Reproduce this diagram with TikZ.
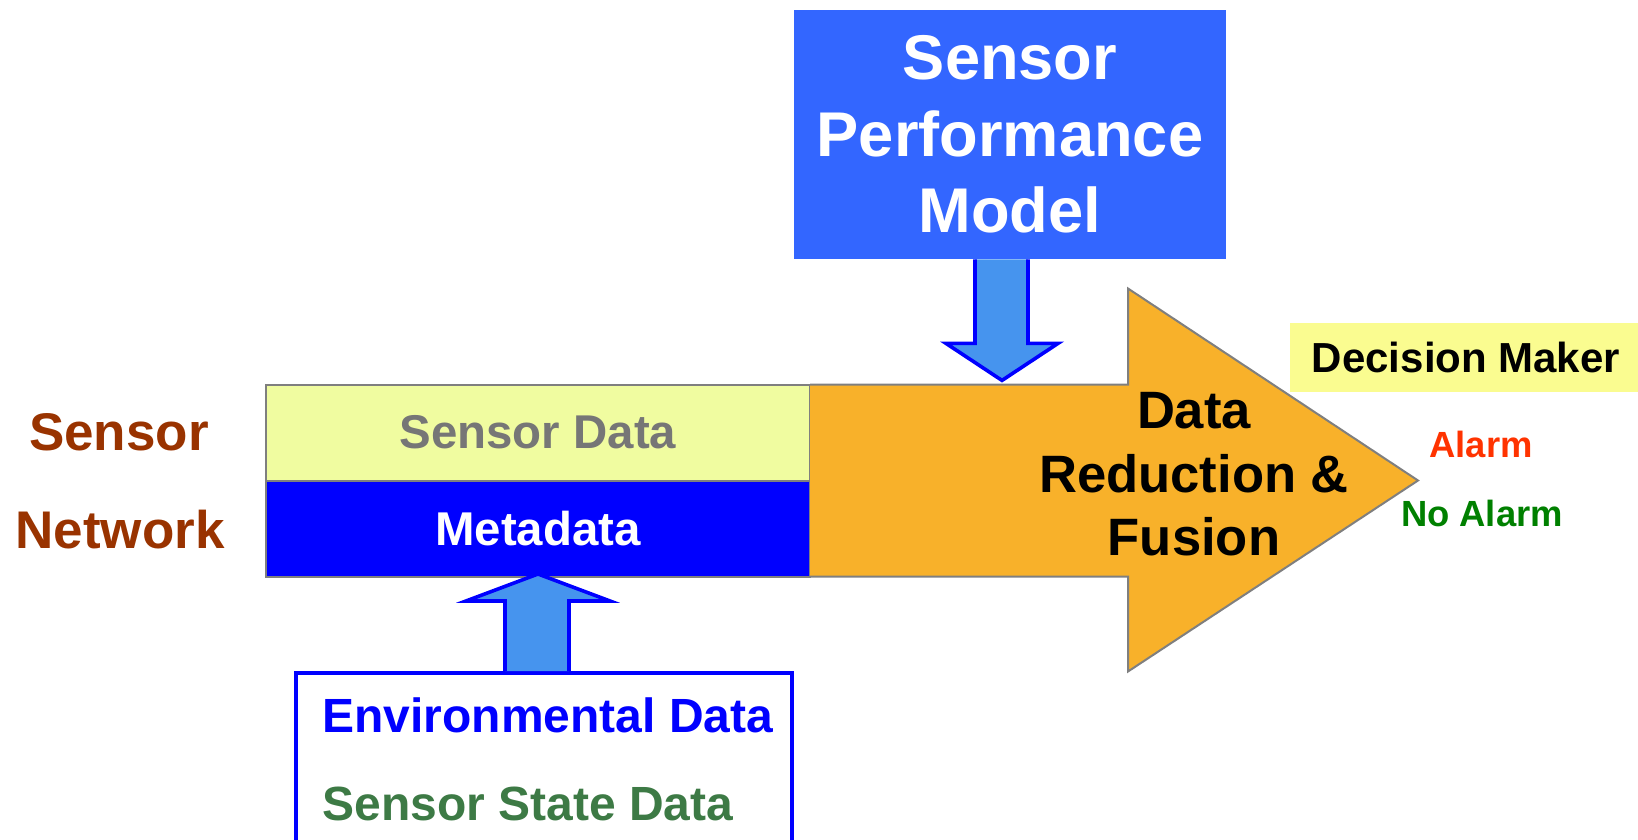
\documentclass[tikz,border=0pt]{standalone}
\usepackage{fontspec}
\setmainfont{Liberation Sans}
\usetikzlibrary{positioning}
\definecolor{modelblue}{HTML}{3366FF}
\definecolor{arrowblue}{HTML}{4694EE}
\definecolor{metablue}{HTML}{0000FF}
\definecolor{datayellow}{HTML}{F0FCA0}
\definecolor{fusionorange}{HTML}{F8B12A}
\definecolor{deciyellow}{HTML}{FAFC90}
\definecolor{netbrown}{HTML}{993300}
\definecolor{alarmred}{HTML}{FF3300}
\definecolor{okgreen}{HTML}{008000}
\definecolor{stategreen}{HTML}{3D7A45}
\definecolor{edgegray}{HTML}{7F7F7F}
\definecolor{datagray}{HTML}{767676}
\tikzset{
  layer/.style={draw=edgegray, line width=1pt, minimum width=272pt, minimum height=48pt,
    inner sep=0pt, outer sep=0pt, font=\bfseries\fontsize{23.7}{28}\selectfont},
  fatarrow/.style={draw=metablue, fill=arrowblue, line width=1.8pt, line join=miter},
  plain/.style={inner sep=0pt},
}

\begin{document}
\begin{tikzpicture}[x=0.5pt, y=-0.5pt]
\useasboundingbox (0,0) rectangle (1638,840);

\node[fill=modelblue, text=white, align=center, minimum width=216pt, minimum height=124.5pt,
  font=\bfseries\fontsize{31.6}{38.3}\selectfont] (model) at (1010,134.5) {Sensor\\Performance\\Model};

\node[layer, fill=datayellow, text=datagray] (sdata) at (538,432.5) {Sensor Data};
\node[layer, fill=metablue, text=white, below=0pt of sdata] (meta) {Metadata};

% big arrow, open on its left side
\draw[fill=fusionorange, draw=edgegray, line width=1pt] (sdata.north east) -- ++(318,0)
  -- ++(0,-96) -- ++(290,192) -- ++(-290,191) -- ++(0,-95) -- (meta.south east);
\node[plain, align=center, font=\bfseries\fontsize{26.3}{31.8}\selectfont] (fusion) at (1194,474.5) {Data\\Reduction \&\\Fusion};

\node[draw=metablue, line width=2pt, minimum width=248pt, minimum height=90pt] (envbox) at (544,763) {};
\node[plain, anchor=base west, text=metablue, font=\bfseries\fontsize{24}{28}\selectfont] (envdata) at (322,732) {Environmental Data};
\node[plain, anchor=base west, text=stategreen, font=\bfseries\fontsize{24}{28}\selectfont] (statedata) at (322,820) {Sensor State Data};

% block arrows
\draw[fatarrow] (model.south) ++(-35,0) -- ++(0,84) -- ++(-29,0) -- ++(56,37)
  -- ++(56,-37) -- ++(-30,0) -- ++(0,-84);
\draw[fatarrow] (envbox.north) ++(25,0) -- ++(0,-70) -- ++(41,0) -- ++(-72,-27)
  -- ++(-72,27) -- ++(39,0) -- ++(0,70);

\node[plain, text=netbrown, font=\bfseries\fontsize{26.5}{32}\selectfont] (sensor) at (119,432) {Sensor};
\node[plain, text=netbrown, font=\bfseries\fontsize{26.5}{32}\selectfont] (network) at (120,530) {Network};

\node[fill=deciyellow, minimum width=176pt, minimum height=34.5pt,
  font=\bfseries\fontsize{21}{25}\selectfont] (decision) at (1466,357.5) {Decision Maker};
\node[plain, text=alarmred, font=\bfseries\fontsize{18.2}{22}\selectfont] (alarm) at (1481,444) {Alarm};
\node[plain, text=okgreen, font=\bfseries\fontsize{18.2}{22}\selectfont] (noalarm) at (1482,513) {No Alarm};
\end{tikzpicture}
\end{document}
